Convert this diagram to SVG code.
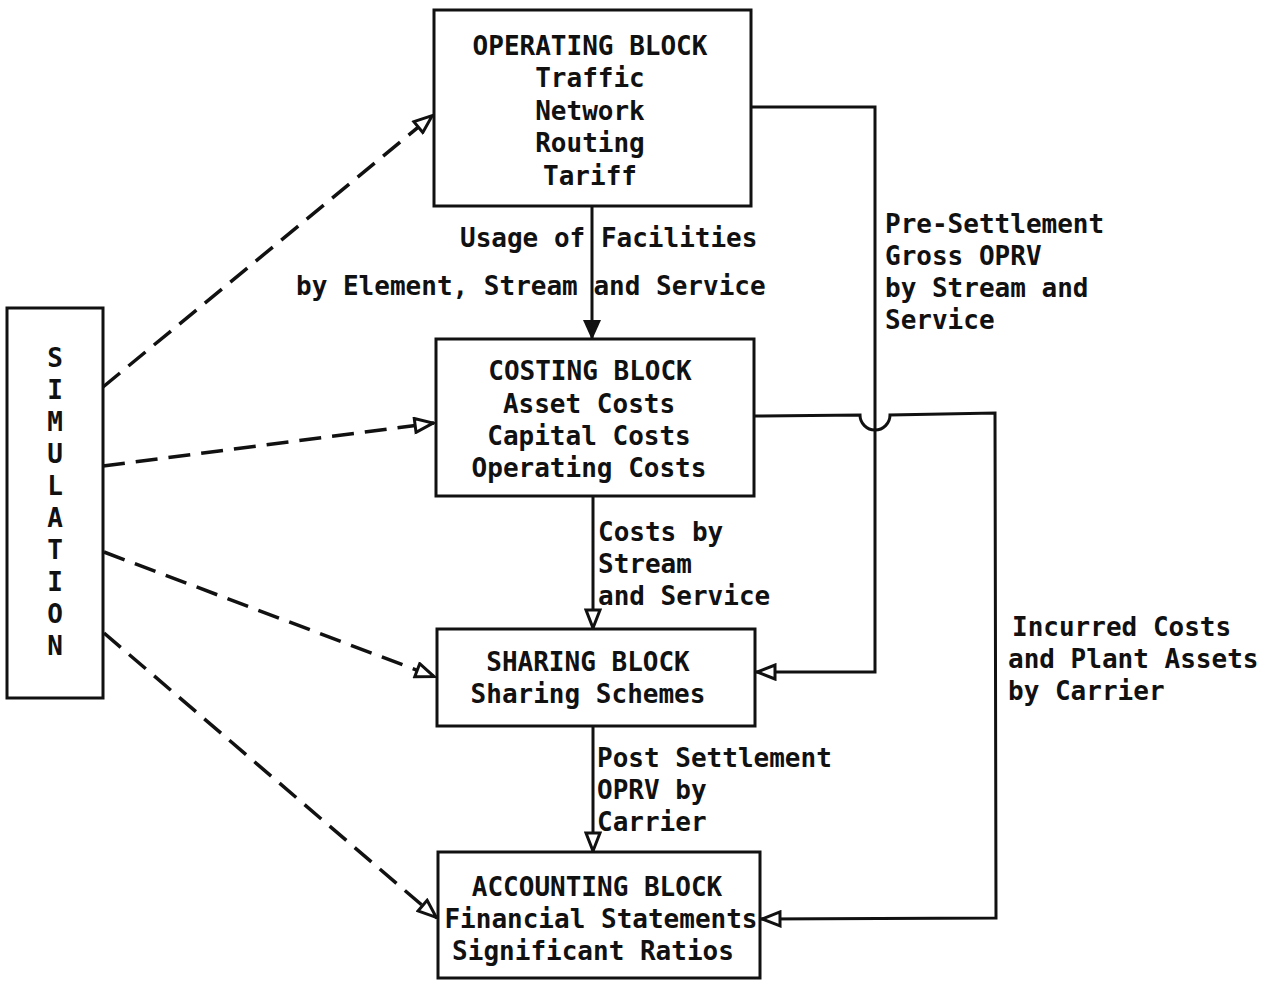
<svg xmlns="http://www.w3.org/2000/svg" width="1270" height="982" viewBox="0 0 1270 982">
<style>
.box{fill:none;stroke:#111;stroke-width:3}
.t{font-family:"DejaVu Sans Mono","Liberation Mono",monospace;font-size:26px;font-weight:bold;fill:#111}
.m{text-anchor:middle}
.ln{fill:none;stroke:#111;stroke-width:3}
.ds{fill:none;stroke:#111;stroke-width:3.5;stroke-dasharray:22 11}
</style>
<defs>
<marker id="open" viewBox="0 0 22 18" refX="21" refY="9" markerWidth="22" markerHeight="18" orient="auto" markerUnits="userSpaceOnUse">
<path d="M2,2 L20,9 L2,16 Z" fill="#fff" stroke="#111" stroke-width="3" stroke-linejoin="miter"/>
</marker>
<marker id="fill" viewBox="0 0 20 18" refX="19" refY="9" markerWidth="20" markerHeight="18" orient="auto" markerUnits="userSpaceOnUse">
<path d="M0,0 L20,9 L0,18 Z" fill="#111"/>
</marker>
</defs>
<rect width="1270" height="982" fill="#fff"/>
<g id="connectors">
<line class="ln" x1="592" y1="206" x2="592" y2="339" marker-end="url(#fill)"/>
<line class="ln" x1="593" y1="496" x2="593" y2="629" marker-end="url(#open)"/>
<line class="ln" x1="593" y1="726" x2="593" y2="852" marker-end="url(#open)"/>
<path class="ln" d="M751,107 L875,107 L875,672 L756,672" marker-end="url(#open)"/>
<path class="ln" d="M754,416 L860,415 A15,15 0 0 0 890,415 L995,413 L996,918 L761,919" marker-end="url(#open)"/>
<line class="ds" x1="103" y1="387" x2="433" y2="115" marker-end="url(#open)"/>
<line class="ds" x1="103" y1="466" x2="434" y2="423" marker-end="url(#open)"/>
<line class="ds" x1="104" y1="552" x2="435" y2="677" marker-end="url(#open)"/>
<line class="ds" x1="104" y1="633" x2="437" y2="918" marker-end="url(#open)"/>
</g>
<g id="connector-labels">
<text class="t" x="460" y="247">Usage of Facilities</text>
<text class="t" x="296" y="295">by Element, Stream and Service</text>
<text class="t" x="885" y="233">Pre-Settlement</text>
<text class="t" x="885" y="265">Gross OPRV</text>
<text class="t" x="885" y="297">by Stream and</text>
<text class="t" x="885" y="329">Service</text>
<text class="t" x="598" y="541">Costs by</text>
<text class="t" x="598" y="573">Stream</text>
<text class="t" x="598" y="605">and Service</text>
<text class="t" x="597" y="767">Post Settlement</text>
<text class="t" x="597" y="799">OPRV by</text>
<text class="t" x="597" y="831">Carrier</text>
<text class="t" x="1012" y="636">Incurred Costs</text>
<text class="t" x="1008" y="668">and Plant Assets</text>
<text class="t" x="1008" y="700">by Carrier</text>
</g>
<g id="simulation">
<rect class="box" x="7" y="308" width="96" height="390"/>
<text class="t m" x="55" y="367">S</text>
<text class="t m" x="55" y="399">I</text>
<text class="t m" x="55" y="431">M</text>
<text class="t m" x="55" y="463">U</text>
<text class="t m" x="55" y="495">L</text>
<text class="t m" x="55" y="527">A</text>
<text class="t m" x="55" y="559">T</text>
<text class="t m" x="55" y="591">I</text>
<text class="t m" x="55" y="623">O</text>
<text class="t m" x="55" y="655">N</text>
</g>
<g id="operating">
<rect class="box" x="434" y="10" width="317" height="196"/>
<text class="t m" x="590" y="55">OPERATING BLOCK</text>
<text class="t m" x="590" y="87">Traffic</text>
<text class="t m" x="590" y="120">Network</text>
<text class="t m" x="590" y="152">Routing</text>
<text class="t m" x="590" y="185">Tariff</text>
</g>
<g id="costing">
<rect class="box" x="436" y="339" width="318" height="157"/>
<text class="t m" x="590" y="380">COSTING BLOCK</text>
<text class="t m" x="589" y="413">Asset Costs</text>
<text class="t m" x="589" y="445">Capital Costs</text>
<text class="t m" x="589" y="477">Operating Costs</text>
</g>
<g id="sharing">
<rect class="box" x="437" y="629" width="318" height="97"/>
<text class="t m" x="588" y="671">SHARING BLOCK</text>
<text class="t m" x="588" y="703">Sharing Schemes</text>
</g>
<g id="accounting">
<rect class="box" x="438" y="852" width="322" height="126"/>
<text class="t m" x="597" y="896">ACCOUNTING BLOCK</text>
<text class="t m" x="601" y="928">Financial Statements</text>
<text class="t m" x="593" y="960">Significant Ratios</text>
</g>
</svg>
